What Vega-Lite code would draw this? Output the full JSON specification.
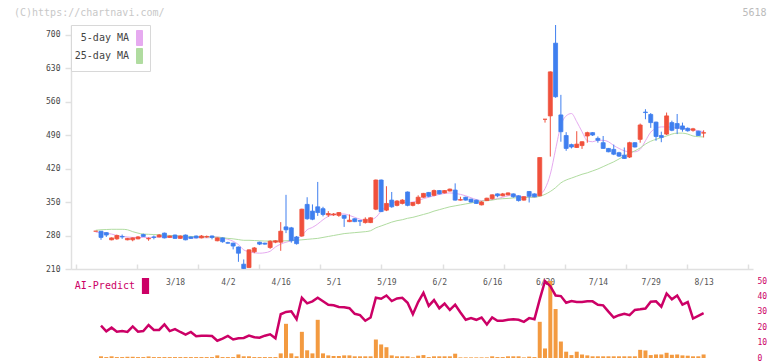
{
"$schema":"https://vega.github.io/schema/vega-lite/v6.json",
"padding":{"left":14,"top":7,"right":5,"bottom":0},
"background":"white",
"config":{"font":"DejaVu Sans Mono","view":{"stroke":null}},
"title":{"text":"5618","anchor":"end","frame":"bounds","offset":-10,"font":"DejaVu Sans Mono","fontSize":10,"fontWeight":"normal","color":"#bbbbbb"},
"datasets":{
"px":[
{"i":0,"o":289,"h":289,"l":289,"c":289,"m5":287,"m25":291},
{"i":1,"o":289,"h":289,"l":271,"c":276,"m5":286,"m25":292},
{"i":2,"o":286,"h":287,"l":277,"c":281,"m5":285,"m25":292.5},
{"i":3,"o":271,"h":276,"l":270,"c":275,"m5":283,"m25":293},
{"i":4,"o":273,"h":282,"l":271,"c":280,"m5":280,"m25":293},
{"i":5,"o":278,"h":282,"l":273,"c":277,"m5":278,"m25":293},
{"i":6,"o":271,"h":275,"l":270,"c":274,"m5":277,"m25":292},
{"i":7,"o":271,"h":276,"l":268,"c":275,"m5":276,"m25":288},
{"i":8,"o":273,"h":279,"l":272,"c":277,"m5":276,"m25":285},
{"i":9,"o":282,"h":284,"l":277,"c":278,"m5":276,"m25":283},
{"i":10,"o":273,"h":276,"l":269,"c":274,"m5":276,"m25":282.5},
{"i":11,"o":277,"h":280,"l":272,"c":276,"m5":276,"m25":282},
{"i":12,"o":277,"h":283,"l":276,"c":281,"m5":277,"m25":281.5},
{"i":13,"o":285,"h":286,"l":274,"c":275,"m5":277,"m25":281},
{"i":14,"o":276,"h":280,"l":275,"c":279,"m5":277,"m25":280},
{"i":15,"o":281,"h":282,"l":273,"c":274,"m5":277,"m25":279.5},
{"i":16,"o":274,"h":280,"l":273,"c":279,"m5":278,"m25":279},
{"i":17,"o":281,"h":282,"l":270,"c":271,"m5":276,"m25":278.5},
{"i":18,"o":277,"h":278,"l":273,"c":274,"m5":275,"m25":278},
{"i":19,"o":279,"h":280,"l":274,"c":275,"m5":275,"m25":277.5},
{"i":20,"o":275,"h":281,"l":274,"c":279,"m5":276,"m25":277},
{"i":21,"o":277,"h":280,"l":275,"c":278,"m5":275,"m25":277},
{"i":22,"o":279,"h":280,"l":272,"c":276,"m5":276,"m25":277},
{"i":23,"o":269,"h":276,"l":268,"c":275,"m5":277,"m25":276.5},
{"i":24,"o":275,"h":276,"l":265,"c":267,"m5":275,"m25":275.5},
{"i":25,"o":265,"h":267,"l":263,"c":264,"m5":272,"m25":274},
{"i":26,"o":264,"h":265,"l":251,"c":258,"m5":268,"m25":273},
{"i":27,"o":256,"h":257,"l":225,"c":243,"m5":261,"m25":271.5},
{"i":28,"o":220,"h":230,"l":210,"c":211,"m5":250,"m25":270},
{"i":29,"o":213,"h":251,"l":212,"c":250,"m5":246,"m25":270},
{"i":30,"o":246,"h":256,"l":243,"c":254,"m5":244,"m25":269.5},
{"i":31,"o":266,"h":267,"l":260,"c":262,"m5":243,"m25":269},
{"i":32,"o":264,"h":265,"l":261,"c":262,"m5":244,"m25":268.5},
{"i":33,"o":255,"h":270,"l":252,"c":268,"m5":247,"m25":268.5},
{"i":34,"o":266,"h":270,"l":264,"c":269,"m5":256,"m25":268.5},
{"i":35,"o":266,"h":308,"l":248,"c":289,"m5":262,"m25":268.5},
{"i":36,"o":298,"h":365,"l":285,"c":292,"m5":266,"m25":269},
{"i":37,"o":296,"h":298,"l":265,"c":269,"m5":269,"m25":269.5},
{"i":38,"o":277,"h":279,"l":261,"c":263,"m5":273,"m25":270},
{"i":39,"o":279,"h":336,"l":277,"c":335,"m5":280,"m25":271},
{"i":40,"o":345,"h":360,"l":313,"c":315,"m5":292,"m25":272},
{"i":41,"o":331,"h":345,"l":312,"c":314,"m5":297,"m25":273},
{"i":42,"o":340,"h":392,"l":321,"c":328,"m5":304,"m25":274},
{"i":43,"o":336,"h":340,"l":320,"c":324,"m5":313,"m25":276},
{"i":44,"o":323,"h":331,"l":319,"c":326,"m5":320,"m25":278},
{"i":45,"o":323,"h":327,"l":321,"c":325,"m5":324,"m25":280},
{"i":46,"o":322,"h":329,"l":319,"c":328,"m5":325,"m25":282},
{"i":47,"o":322,"h":323,"l":298,"c":316,"m5":325,"m25":284},
{"i":48,"o":309,"h":324,"l":308,"c":312,"m5":322,"m25":285},
{"i":49,"o":315,"h":316,"l":308,"c":309,"m5":318,"m25":286},
{"i":50,"o":311,"h":312,"l":300,"c":310,"m5":314,"m25":287},
{"i":51,"o":307,"h":318,"l":305,"c":314,"m5":312,"m25":288},
{"i":52,"o":307,"h":318,"l":306,"c":317,"m5":313,"m25":290},
{"i":53,"o":335,"h":397,"l":333,"c":396,"m5":318,"m25":296},
{"i":54,"o":396,"h":397,"l":329,"c":330,"m5":331,"m25":300},
{"i":55,"o":333,"h":383,"l":331,"c":347,"m5":341,"m25":304},
{"i":56,"o":354,"h":371,"l":338,"c":340,"m5":347,"m25":308},
{"i":57,"o":343,"h":354,"l":341,"c":352,"m5":350,"m25":311},
{"i":58,"o":347,"h":356,"l":345,"c":354,"m5":349,"m25":313},
{"i":59,"o":371,"h":372,"l":341,"c":343,"m5":349,"m25":316},
{"i":60,"o":343,"h":350,"l":341,"c":349,"m5":350,"m25":318},
{"i":61,"o":347,"h":364,"l":345,"c":360,"m5":353,"m25":321},
{"i":62,"o":360,"h":369,"l":359,"c":368,"m5":357,"m25":324},
{"i":63,"o":370,"h":371,"l":360,"c":362,"m5":360,"m25":327},
{"i":64,"o":364,"h":376,"l":362,"c":374,"m5":363,"m25":331},
{"i":65,"o":374,"h":375,"l":366,"c":367,"m5":366,"m25":334},
{"i":66,"o":369,"h":375,"l":368,"c":374,"m5":368,"m25":337},
{"i":67,"o":373,"h":378,"l":372,"c":377,"m5":369,"m25":340},
{"i":68,"o":375,"h":389,"l":353,"c":354,"m5":368,"m25":342},
{"i":69,"o":354,"h":361,"l":353,"c":355,"m5":366,"m25":344},
{"i":70,"o":360,"h":361,"l":353,"c":354,"m5":363,"m25":346},
{"i":71,"o":356,"h":357,"l":349,"c":350,"m5":359,"m25":348},
{"i":72,"o":354,"h":355,"l":346,"c":347,"m5":355,"m25":350},
{"i":73,"o":344,"h":352,"l":343,"c":350,"m5":353,"m25":352},
{"i":74,"o":353,"h":359,"l":352,"c":358,"m5":354,"m25":353},
{"i":75,"o":357,"h":366,"l":355,"c":365,"m5":355,"m25":354},
{"i":76,"o":367,"h":368,"l":360,"c":363,"m5":357,"m25":356},
{"i":77,"o":363,"h":369,"l":362,"c":367,"m5":360,"m25":357},
{"i":78,"o":365,"h":370,"l":364,"c":369,"m5":363,"m25":357.5},
{"i":79,"o":367,"h":368,"l":359,"c":361,"m5":364,"m25":358.5},
{"i":80,"o":363,"h":364,"l":351,"c":353,"m5":362,"m25":359},
{"i":81,"o":354,"h":362,"l":353,"c":361,"m5":361,"m25":359.5},
{"i":82,"o":372,"h":373,"l":349,"c":362,"m5":360,"m25":360},
{"i":83,"o":367,"h":368,"l":360,"c":361,"m5":360,"m25":360},
{"i":84,"o":363,"h":443,"l":362,"c":443,"m5":365,"m25":362},
{"i":85,"o":523,"h":523,"l":516,"c":523,"m5":378,"m25":366},
{"i":86,"o":530,"h":623,"l":445,"c":622,"m5":408,"m25":372},
{"i":87,"o":682,"h":720,"l":568,"c":570,"m5":460,"m25":380},
{"i":88,"o":532,"h":574,"l":476,"c":497,"m5":510,"m25":390},
{"i":89,"o":489,"h":496,"l":457,"c":462,"m5":530,"m25":396},
{"i":90,"o":470,"h":472,"l":462,"c":465,"m5":535,"m25":400},
{"i":91,"o":464,"h":498,"l":463,"c":471,"m5":518,"m25":404},
{"i":92,"o":468,"h":477,"l":461,"c":476,"m5":497,"m25":408},
{"i":93,"o":488,"h":497,"l":474,"c":495,"m5":478,"m25":411},
{"i":94,"o":495,"h":496,"l":488,"c":490,"m5":476,"m25":415},
{"i":95,"o":483,"h":487,"l":474,"c":479,"m5":479,"m25":419},
{"i":96,"o":474,"h":488,"l":461,"c":462,"m5":479,"m25":424},
{"i":97,"o":462,"h":463,"l":454,"c":455,"m5":476,"m25":429},
{"i":98,"o":460,"h":470,"l":448,"c":450,"m5":468,"m25":434},
{"i":99,"o":453,"h":455,"l":444,"c":446,"m5":462,"m25":440},
{"i":100,"o":448,"h":464,"l":440,"c":441,"m5":457,"m25":446},
{"i":101,"o":444,"h":476,"l":442,"c":474,"m5":455,"m25":452},
{"i":102,"o":474,"h":475,"l":464,"c":465,"m5":455,"m25":457},
{"i":103,"o":481,"h":514,"l":474,"c":511,"m5":460,"m25":463},
{"i":104,"o":538,"h":544,"l":523,"c":537,"m5":478,"m25":471},
{"i":105,"o":533,"h":536,"l":505,"c":516,"m5":496,"m25":477},
{"i":106,"o":517,"h":518,"l":478,"c":487,"m5":504,"m25":481},
{"i":107,"o":489,"h":497,"l":475,"c":485,"m5":507,"m25":484.5},
{"i":108,"o":492,"h":537,"l":490,"c":530,"m5":507,"m25":488},
{"i":109,"o":516,"h":520,"l":498,"c":500,"m5":506,"m25":492},
{"i":110,"o":514,"h":534,"l":492,"c":504,"m5":504,"m25":494},
{"i":111,"o":509,"h":516,"l":497,"c":502,"m5":504,"m25":494},
{"i":112,"o":504,"h":506,"l":497,"c":499,"m5":503,"m25":492},
{"i":113,"o":500,"h":505,"l":497,"c":503,"m5":501,"m25":488},
{"i":114,"o":498,"h":499,"l":488,"c":489,"m5":499,"m25":486.5},
{"i":115,"o":494,"h":500,"l":485,"c":495,"m5":497,"m25":486}
],
"ai":[
{"i":1,"ai":21.0,"v":1.1},{"i":2,"ai":17.3,"v":0.6},{"i":3,"ai":19.7,"v":1.1},{"i":4,"ai":17.1,"v":0.6},{"i":5,"ai":17.5,"v":0.6},
{"i":6,"ai":16.9,"v":0.8},{"i":7,"ai":20.5,"v":0.8},{"i":8,"ai":17.1,"v":0.6},{"i":9,"ai":17.5,"v":0.6},{"i":10,"ai":21.4,"v":1.0},
{"i":11,"ai":18.2,"v":0.6},{"i":12,"ai":18.2,"v":0.6},{"i":13,"ai":21.8,"v":0.6},{"i":14,"ai":17.5,"v":0.6},{"i":15,"ai":18.8,"v":0.6},
{"i":16,"ai":16.9,"v":0.6},{"i":17,"ai":15.2,"v":0.6},{"i":18,"ai":16.9,"v":0.6},{"i":19,"ai":14.1,"v":0.6},{"i":20,"ai":14.5,"v":0.6},
{"i":21,"ai":14.5,"v":0.6},{"i":22,"ai":14.3,"v":0.6},{"i":23,"ai":11.2,"v":1.7},{"i":24,"ai":12.6,"v":0.6},{"i":25,"ai":14.3,"v":0.6},
{"i":26,"ai":12.0,"v":0.6},{"i":27,"ai":12.8,"v":2.3},{"i":28,"ai":13.0,"v":1.1},{"i":29,"ai":14.5,"v":1.1},{"i":30,"ai":13.5,"v":0.6},
{"i":31,"ai":13.2,"v":0.6},{"i":32,"ai":14.5,"v":0.6},{"i":33,"ai":15.4,"v":0.6},{"i":34,"ai":12.8,"v":0.6},{"i":35,"ai":28.4,"v":3.0},
{"i":36,"ai":29.9,"v":22.2},{"i":37,"ai":30.3,"v":3.0},{"i":38,"ai":25.2,"v":1.1},{"i":39,"ai":39.1,"v":17.0},{"i":40,"ai":35.5,"v":5.0},
{"i":41,"ai":36.8,"v":3.0},{"i":42,"ai":39.1,"v":24.8},{"i":43,"ai":36.8,"v":3.0},{"i":44,"ai":34.6,"v":1.7},{"i":45,"ai":34.2,"v":1.3},
{"i":46,"ai":33.1,"v":1.3},{"i":47,"ai":33.0,"v":1.7},{"i":48,"ai":32.3,"v":1.7},{"i":49,"ai":28.7,"v":1.1},{"i":50,"ai":27.9,"v":1.1},
{"i":51,"ai":24.2,"v":1.1},{"i":52,"ai":26.3,"v":1.1},{"i":53,"ai":39.1,"v":12.0},{"i":54,"ai":38.5,"v":8.8},{"i":55,"ai":40.6,"v":7.0},
{"i":56,"ai":37.0,"v":1.7},{"i":57,"ai":38.7,"v":1.1},{"i":58,"ai":39.1,"v":1.1},{"i":59,"ai":35.9,"v":1.1},{"i":60,"ai":28.4,"v":0.4},
{"i":61,"ai":36.3,"v":1.5},{"i":62,"ai":42.3,"v":1.9},{"i":63,"ai":33.8,"v":0.6},{"i":64,"ai":37.6,"v":1.1},{"i":65,"ai":32.3,"v":1.1},
{"i":66,"ai":35.3,"v":1.1},{"i":67,"ai":31.2,"v":1.1},{"i":68,"ai":34.6,"v":2.8},{"i":69,"ai":29.5,"v":0.4},{"i":70,"ai":24.8,"v":0.4},
{"i":71,"ai":25.9,"v":0.4},{"i":72,"ai":24.8,"v":0.4},{"i":73,"ai":26.3,"v":0.4},{"i":74,"ai":21.8,"v":0.4},{"i":75,"ai":26.3,"v":1.1},
{"i":76,"ai":24.2,"v":0.6},{"i":77,"ai":24.2,"v":0.6},{"i":78,"ai":24.8,"v":1.1},{"i":79,"ai":25.2,"v":1.1},{"i":80,"ai":24.8,"v":1.1},
{"i":81,"ai":23.5,"v":0.4},{"i":82,"ai":25.9,"v":0.9},{"i":83,"ai":25.2,"v":0.6},{"i":84,"ai":38.1,"v":23.5},{"i":85,"ai":50.0,"v":6.2},
{"i":86,"ai":46.6,"v":50.0},{"i":87,"ai":40.6,"v":31.8},{"i":88,"ai":40.2,"v":10.7},{"i":89,"ai":35.9,"v":4.1},{"i":90,"ai":37.0,"v":1.9},
{"i":91,"ai":36.3,"v":4.1},{"i":92,"ai":36.3,"v":2.3},{"i":93,"ai":36.8,"v":1.7},{"i":94,"ai":36.8,"v":1.1},{"i":95,"ai":34.6,"v":1.1},
{"i":96,"ai":34.2,"v":1.1},{"i":97,"ai":30.1,"v":1.1},{"i":98,"ai":26.3,"v":1.1},{"i":99,"ai":27.8,"v":1.1},{"i":100,"ai":28.7,"v":1.1},
{"i":101,"ai":27.8,"v":1.1},{"i":102,"ai":31.2,"v":1.1},{"i":103,"ai":31.6,"v":5.3},{"i":104,"ai":32.1,"v":4.9},{"i":105,"ai":36.5,"v":1.9},
{"i":106,"ai":36.8,"v":2.3},{"i":107,"ai":33.3,"v":2.3},{"i":108,"ai":41.9,"v":3.4},{"i":109,"ai":38.1,"v":2.1},{"i":110,"ai":40.6,"v":2.3},
{"i":111,"ai":34.6,"v":1.7},{"i":112,"ai":36.3,"v":1.5},{"i":113,"ai":25.6,"v":1.1},{"i":114,"ai":27.4,"v":1.1},{"i":115,"ai":29.1,"v":2.3}
]
},
"spacing":12,
"bounds":"flush",
"vconcat":[
{
"width":682,"height":244,
"title":{"text":"(C)https://chartnavi.com/","anchor":"start","frame":"group","dx":-57,"offset":7,"font":"DejaVu Sans Mono","fontSize":10,"fontWeight":"normal","color":"#c8c8c8"},
"data":{"name":"px"},
"layer":[
{
"transform":[{"fold":["m5","m25"],"as":["s","v"]}],
"mark":{"type":"line","strokeWidth":1,"interpolate":"monotone"},
"encoding":{
"x":{"field":"i","type":"quantitative","scale":{"domain":[-3.73,123.4],"nice":false,"zero":false},"axis":null},
"y":{"field":"v","type":"quantitative","scale":{"domain":[210,720],"nice":false,"zero":false},"axis":null},
"color":{"field":"s","type":"nominal","scale":{"domain":["m5","m25"],"range":["#e6aaf0","#b0dca0"]},
"legend":{"orient":"none","legendX":0,"legendY":0,"title":null,"labelExpr":"datum.value == 'm5' ? '5-day MA' : '25-day MA'",
"symbolType":"M-0.4,-1H0.4V1H-0.4Z","symbolSize":225,"symbolStrokeWidth":1,"symbolOffset":55.5,"labelOffset":-18.5,"labelAlign":"right",
"padding":5,"rowPadding":-3,"strokeColor":"#d8d8d8","fillColor":"white","labelFont":"DejaVu Sans Mono","labelFontSize":10,"labelColor":"#444444",
"encode":{"symbols":{"update":{"fill":{"scale":"color","field":"value"},"stroke":{"value":"#555555"},"strokeWidth":{"value":1},"opacity":{"value":1}}}}}}
}
},
{
"mark":{"type":"rule","strokeWidth":1},
"encoding":{
"x":{"field":"i","type":"quantitative","scale":{"domain":[-3.73,123.4],"nice":false,"zero":false},
"axis":{"orient":"bottom","values":[15,25,35,45,55,65,75,85,95,105,115],"labelExpr":"['3/18','4/2','4/16','5/1','5/19','6/2','6/16','6/30','7/14','7/29','8/13'][(datum.value-15)/10]",
"ticks":false,"tickSize":0,"domain":true,"domainColor":"#e0e0e0","domainWidth":1.5,"labelPadding":9,"labelFont":"DejaVu Sans Mono","labelFontSize":8,"labelColor":"#555555","title":null,"grid":false,"labelFlush":false}},
"y":{"field":"l","type":"quantitative","scale":{"domain":[210,720],"nice":false,"zero":false},
"axis":{"orient":"left","values":[210,280,350,420,490,560,630,700],"title":null,"grid":false,"domainColor":"#e0e0e0","domainWidth":1.5,"tickColor":"#e0e0e0","tickWidth":1.5,"tickSize":6,"labelPadding":5,"labelFont":"DejaVu Sans Mono","labelFontSize":8,"labelColor":"#444444"}},
"y2":{"field":"h"},
"color":{"condition":{"test":"datum.c >= datum.o","value":"#f0503c"},"value":"#3f7fef"}
}
},
{
"mark":{"type":"bar","size":4,"strokeWidth":0.8},
"encoding":{
"x":{"field":"i","type":"quantitative","scale":{"domain":[-3.73,123.4],"nice":false,"zero":false},
"axis":{"orient":"bottom","values":[-3.73,7.83,19.38,30.94,42.5,54.06,65.61,77.17,88.73,100.28,111.84,123.4],"labels":false,"domain":false,"ticks":true,"tickSize":-5,"tickColor":"#e0e0e0","tickWidth":1.5,"title":null,"grid":false}},
"y":{"field":"o","type":"quantitative","scale":{"domain":[210,720],"nice":false,"zero":false},"axis":null},
"y2":{"field":"c"},
"color":{"condition":{"test":"datum.c >= datum.o","value":"#f0503c"},"value":"#3f7fef"},
"stroke":{"condition":{"test":"datum.c >= datum.o","value":"#f0503c"},"value":"#3f7fef"}
}
}
],
"resolve":{"axis":{"x":"independent","y":"independent"}}
},
{
"width":682,"height":77,
"data":{"name":"ai"},
"layer":[
{
"mark":{"type":"bar","size":4,"color":"#f39a40"},
"encoding":{
"x":{"field":"i","type":"quantitative","scale":{"domain":[-3.73,123.4],"nice":false,"zero":false},"axis":null},
"y":{"field":"v","type":"quantitative","scale":{"domain":[0,50],"nice":false},
"axis":{"orient":"right","values":[0,10,20,30,40,50],"domain":false,"ticks":false,"tickSize":0,"grid":false,"labelColor":"#cc0066","labelFont":"DejaVu Sans Mono","labelFontSize":8,"labelPadding":4,"title":null}}
}
},
{
"mark":{"type":"line","strokeWidth":2.5},
"encoding":{
"x":{"field":"i","type":"quantitative","scale":{"domain":[-3.73,123.4],"nice":false,"zero":false},"axis":null},
"y":{"field":"ai","type":"quantitative","scale":{"domain":[0,50],"nice":false},"axis":null},
"stroke":{"datum":"AI-Predict","type":"nominal","scale":{"domain":["AI-Predict"],"range":["#cc0066"]},
"legend":{"orient":"none","legendX":5,"legendY":253,"title":null,"symbolType":"M-0.45,-1H0.45V1H-0.45Z","symbolSize":256,"symbolStrokeWidth":0,"symbolOffset":61.5,"labelOffset":-18.5,"labelAlign":"right","padding":0,
"labelFont":"DejaVu Sans Mono","labelFontSize":10,"labelColor":"#cc0066",
"encode":{"symbols":{"update":{"fill":{"value":"#cc0066"},"stroke":{"value":"transparent"},"opacity":{"value":1}}}}}}
}
}
],
"resolve":{"axis":{"y":"independent"}}
}
]
}
